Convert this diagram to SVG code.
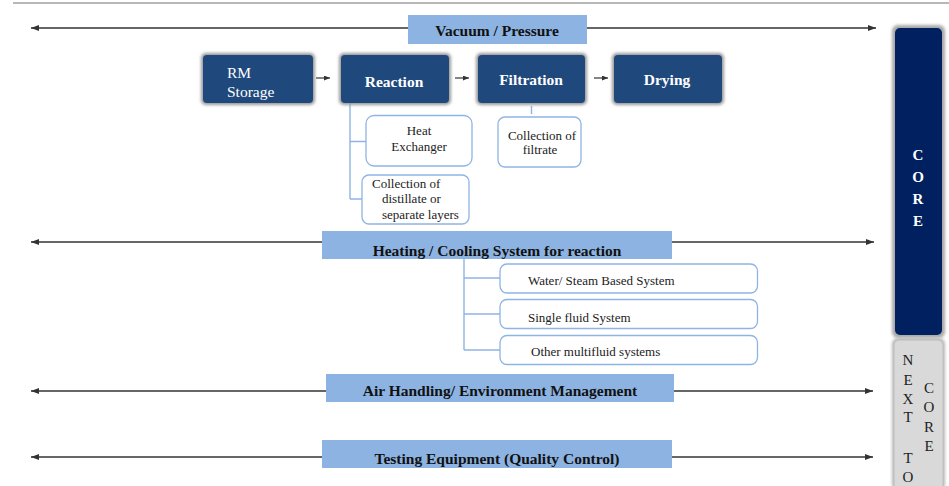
<svg xmlns="http://www.w3.org/2000/svg" width="949" height="486" viewBox="0 0 949 486">
<defs>
<style>
.proc{fill:#1f497d;}
.ptxt{fill:#ffffff;font-family:"Liberation Serif","DejaVu Serif",serif;font-size:15.5px;font-weight:bold;}
.ptxtn{fill:#ffffff;font-family:"Liberation Serif","DejaVu Serif",serif;font-size:15.5px;}
.lab{fill:#8db3e2;}
.ltxt{fill:#111111;font-family:"Liberation Serif","DejaVu Serif",serif;font-size:15.5px;font-weight:bold;text-anchor:middle;}
.sub{fill:#ffffff;stroke:#8eb4e3;stroke-width:1.3;}
.stxt{fill:#222222;font-family:"Liberation Serif","DejaVu Serif",serif;font-size:13px;}
.long{stroke:#333333;stroke-width:1.4;fill:none;marker-start:url(#ah);marker-end:url(#ah);}
.small{stroke:#333333;stroke-width:1.2;fill:none;marker-end:url(#ahs);}
.tree{stroke:#8eb4e3;stroke-width:1.4;fill:none;}
.ctxt{fill:#ffffff;font-family:"Liberation Serif","DejaVu Serif",serif;font-size:15px;font-weight:bold;text-anchor:middle;}
.ntxt{fill:#222222;font-family:"Liberation Serif","DejaVu Serif",serif;font-size:15px;text-anchor:middle;}
</style>
<marker id="ah" viewBox="0 0 8 6" refX="8" refY="3" markerWidth="8" markerHeight="6" markerUnits="userSpaceOnUse" orient="auto-start-reverse">
<path d="M0,0 L8,3 L0,6 z" fill="#333333"/>
</marker>
<marker id="ahs" viewBox="0 0 6 5" refX="6" refY="2.5" markerWidth="6" markerHeight="5" markerUnits="userSpaceOnUse" orient="auto">
<path d="M0,0 L6,2.5 L0,5 z" fill="#333333"/>
</marker>
<filter id="glow" x="-20%" y="-20%" width="140%" height="140%">
<feGaussianBlur stdDeviation="1.6"/>
</filter>
</defs>
<rect x="0" y="0" width="949" height="486" fill="#ffffff"/>
<line x1="13" y1="3" x2="949" y2="3" stroke="#a0a0a0" stroke-width="1.5"/>

<g id="connectors">
<line class="long" x1="31" y1="28" x2="876" y2="28"/>
<line class="long" x1="31" y1="242" x2="874" y2="242"/>
<line class="long" x1="31" y1="391" x2="873" y2="391"/>
<line class="long" x1="31" y1="457" x2="873" y2="457"/>
<line class="small" x1="316" y1="78" x2="330" y2="78"/>
<line class="small" x1="455" y1="78" x2="469" y2="78"/>
<line class="small" x1="594" y1="78" x2="608" y2="78"/>
<path class="tree" d="M350,103 V199 M350,141.5 H366 M350,199 H362"/>
<path class="tree" d="M531.5,106 V114"/>
<path class="tree" d="M464,259 V350 M464,278 H500 M464,314 H500 M464,350 H500"/>
</g>

<g id="vacuum-pressure">
<rect class="lab" x="408" y="15" width="179" height="29"/>
<text class="ltxt" x="497" y="36">Vacuum / Pressure</text>
</g>

<g id="rm-storage">
<rect x="201" y="53" width="114" height="52" rx="5" fill="#9a9a9a" filter="url(#glow)"/>
<rect class="proc" x="203" y="55" width="110" height="48" rx="4"/>
<text class="ptxtn" x="227" y="78">RM</text>
<text class="ptxtn" x="227" y="97">Storage</text>
</g>

<g id="reaction">
<rect x="339" y="53" width="112" height="52" rx="5" fill="#9a9a9a" filter="url(#glow)"/>
<rect class="proc" x="341" y="55" width="108" height="48" rx="4"/>
<text class="ptxt" x="394" y="87" text-anchor="middle">Reaction</text>
</g>

<g id="filtration">
<rect x="476" y="53" width="111" height="52" rx="5" fill="#9a9a9a" filter="url(#glow)"/>
<rect class="proc" x="478" y="55" width="107" height="48" rx="4"/>
<text class="ptxt" x="531" y="85" text-anchor="middle">Filtration</text>
</g>

<g id="drying">
<rect x="612" y="53" width="112" height="52" rx="5" fill="#9a9a9a" filter="url(#glow)"/>
<rect class="proc" x="614" y="55" width="108" height="48" rx="4"/>
<text class="ptxt" x="667" y="85" text-anchor="middle">Drying</text>
</g>

<g id="heat-exchanger">
<rect class="sub" x="366" y="115.5" width="106" height="50.5" rx="8"/>
<text class="stxt" x="419" y="135" text-anchor="middle">Heat</text>
<text class="stxt" x="419" y="151" text-anchor="middle">Exchanger</text>
</g>

<g id="collection-distillate">
<rect class="sub" x="362" y="175" width="107" height="49" rx="7"/>
<text class="stxt" x="372" y="188">Collection of</text>
<text class="stxt" x="382" y="203">distillate or</text>
<text class="stxt" x="382" y="219">separate layers</text>
</g>

<g id="collection-filtrate">
<rect class="sub" x="498" y="117" width="83" height="50" rx="7"/>
<text class="stxt" x="542" y="140" text-anchor="middle">Collection of</text>
<text class="stxt" x="540" y="154" text-anchor="middle">filtrate</text>
</g>

<g id="heating-cooling">
<rect class="lab" x="322" y="231" width="350" height="28"/>
<text class="ltxt" x="497" y="256">Heating / Cooling System for reaction</text>
</g>

<g id="water-steam">
<rect class="sub" x="500" y="264" width="257.5" height="29" rx="7"/>
<text class="stxt" x="528" y="285">Water/ Steam Based System</text>
</g>

<g id="single-fluid">
<rect class="sub" x="500" y="299.5" width="257.5" height="29" rx="7"/>
<text class="stxt" x="528" y="322">Single fluid System</text>
</g>

<g id="other-multifluid">
<rect class="sub" x="500" y="335.5" width="257.5" height="29" rx="7"/>
<text class="stxt" x="531" y="356">Other multifluid systems</text>
</g>

<g id="air-handling">
<rect class="lab" x="326" y="374" width="348" height="28"/>
<text class="ltxt" x="500" y="396">Air Handling/ Environment Management</text>
</g>

<g id="testing-equipment">
<rect class="lab" x="322" y="440" width="350" height="28"/>
<text class="ltxt" x="497" y="464">Testing Equipment (Quality Control)</text>
</g>

<g id="core">
<rect x="892" y="25" width="53" height="313" rx="6" fill="#a8a8a8" filter="url(#glow)"/>
<rect x="895" y="28" width="47" height="307" rx="5" fill="#002060"/>
<text class="ctxt" x="918" y="160">C</text>
<text class="ctxt" x="918" y="182">O</text>
<text class="ctxt" x="918" y="204">R</text>
<text class="ctxt" x="918" y="226">E</text>
</g>

<g id="next-to-core">
<rect x="892" y="338" width="53" height="152" rx="6" fill="#b8b8b8" filter="url(#glow)"/>
<rect x="894" y="340" width="49" height="150" rx="5" fill="#d9d9d9" stroke="#bdbdbd" stroke-width="1"/>
<text class="ntxt" x="908" y="365">N</text>
<text class="ntxt" x="908" y="385">E</text>
<text class="ntxt" x="908" y="404">X</text>
<text class="ntxt" x="908" y="422">T</text>
<text class="ntxt" x="908" y="463">T</text>
<text class="ntxt" x="908" y="482">O</text>
<text class="ntxt" x="929" y="393">C</text>
<text class="ntxt" x="929" y="412">O</text>
<text class="ntxt" x="929" y="432">R</text>
<text class="ntxt" x="929" y="451">E</text>
</g>
</svg>
